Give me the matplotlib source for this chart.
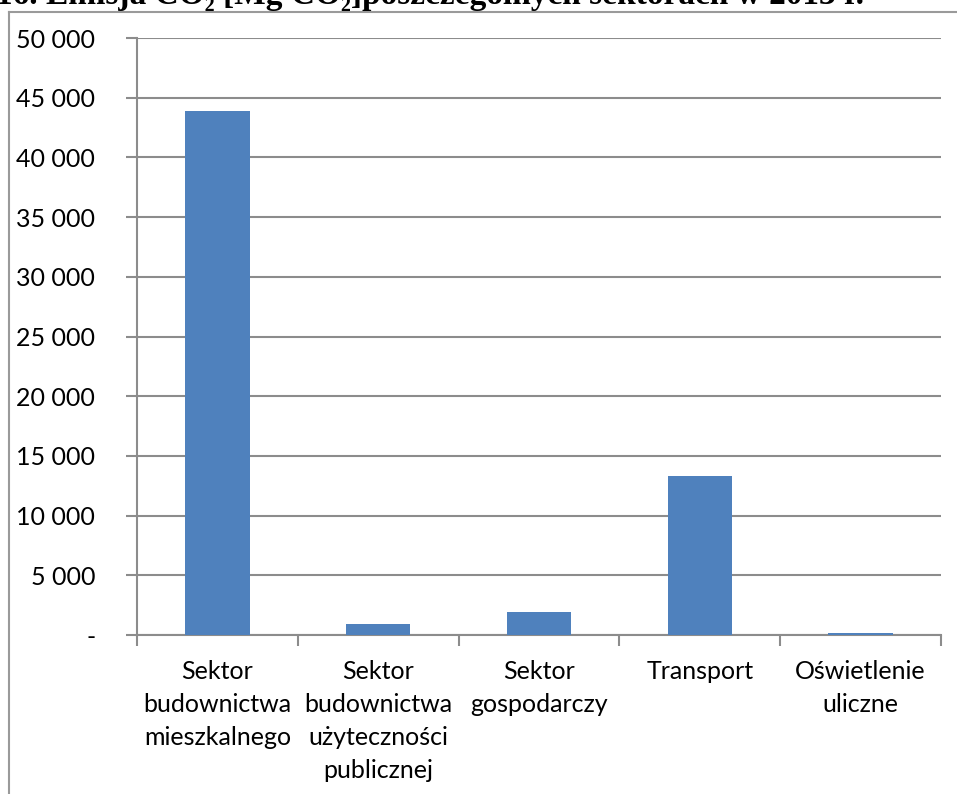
import matplotlib

matplotlib.use("Agg")
import matplotlib.pyplot as plt
from matplotlib.ticker import FuncFormatter, MultipleLocator
import numpy as np

categories = [
    "Sektor\nbudownictwa\nmieszkalnego",
    "Sektor\nbudownictwa\nużyteczności\npublicznej",
    "Sektor\ngospodarczy",
    "Transport",
    "Oświetlenie\nuliczne",
]
emisja = [43900, 920, 1900, 13300, 170]
title = "16. Emisja CO₂ [Mg CO₂]poszczególnych sektorach w 2013 r."

BAR = "#4f81bd"
GRID = "#8c8c8c"

fig = plt.figure(figsize=(9.57, 7.94), dpi=100, facecolor="white")
ax = fig.add_axes([137 / 957, 1 - 635 / 794, 804 / 957, 597 / 794])

x = np.arange(len(categories))
ax.bar(x, emisja, width=0.4, color=BAR, zorder=3)

ax.set_xlim(-0.5, len(categories) - 0.5)
ax.set_ylim(0, 50000)
ax.yaxis.set_major_locator(MultipleLocator(5000))
ax.yaxis.set_major_formatter(
    FuncFormatter(lambda v, _: "-" if v == 0 else f"{int(v):,}".replace(",", " "))
)
ax.grid(axis="y", color=GRID, linewidth=1.5, zorder=0)

ax.set_xticks(x)
ax.set_xticklabels(categories, fontsize=18, family="Lato", linespacing=1.52)
ax.set_xticks(np.arange(len(categories) + 1) - 0.5, minor=True)
ax.tick_params(axis="x", which="major", length=0, pad=18)
ax.tick_params(axis="x", which="minor", length=8, width=1.5, color=GRID, direction="out")
ax.tick_params(axis="y", length=8, width=1.5, color=GRID, pad=22, labelsize=18)
for lbl in ax.get_yticklabels():
    lbl.set_family("Lato")

for side in ("top", "right"):
    ax.spines[side].set_visible(False)
for side in ("left", "bottom"):
    ax.spines[side].set_color(GRID)
    ax.spines[side].set_linewidth(1.5)

# ramka wykresu (widoczna tylko lewa i górna krawędź)
fig.add_artist(plt.Line2D([9 / 957, 9 / 957], [0, 1 - 12 / 794], transform=fig.transFigure,
                          color="#9a9a9a", linewidth=1.5))
fig.add_artist(plt.Line2D([9 / 957, 1], [1 - 12 / 794, 1 - 12 / 794], transform=fig.transFigure,
                          color="#9a9a9a", linewidth=1.5))

# tytuł ucięty u góry, jak w oryginale
fig.text(-4 / 957, 1 - 4 / 794, title, family="Liberation Serif", weight="bold",
         fontsize=24, va="baseline", ha="left")

fig.savefig("out.png", dpi=100, facecolor="white")
